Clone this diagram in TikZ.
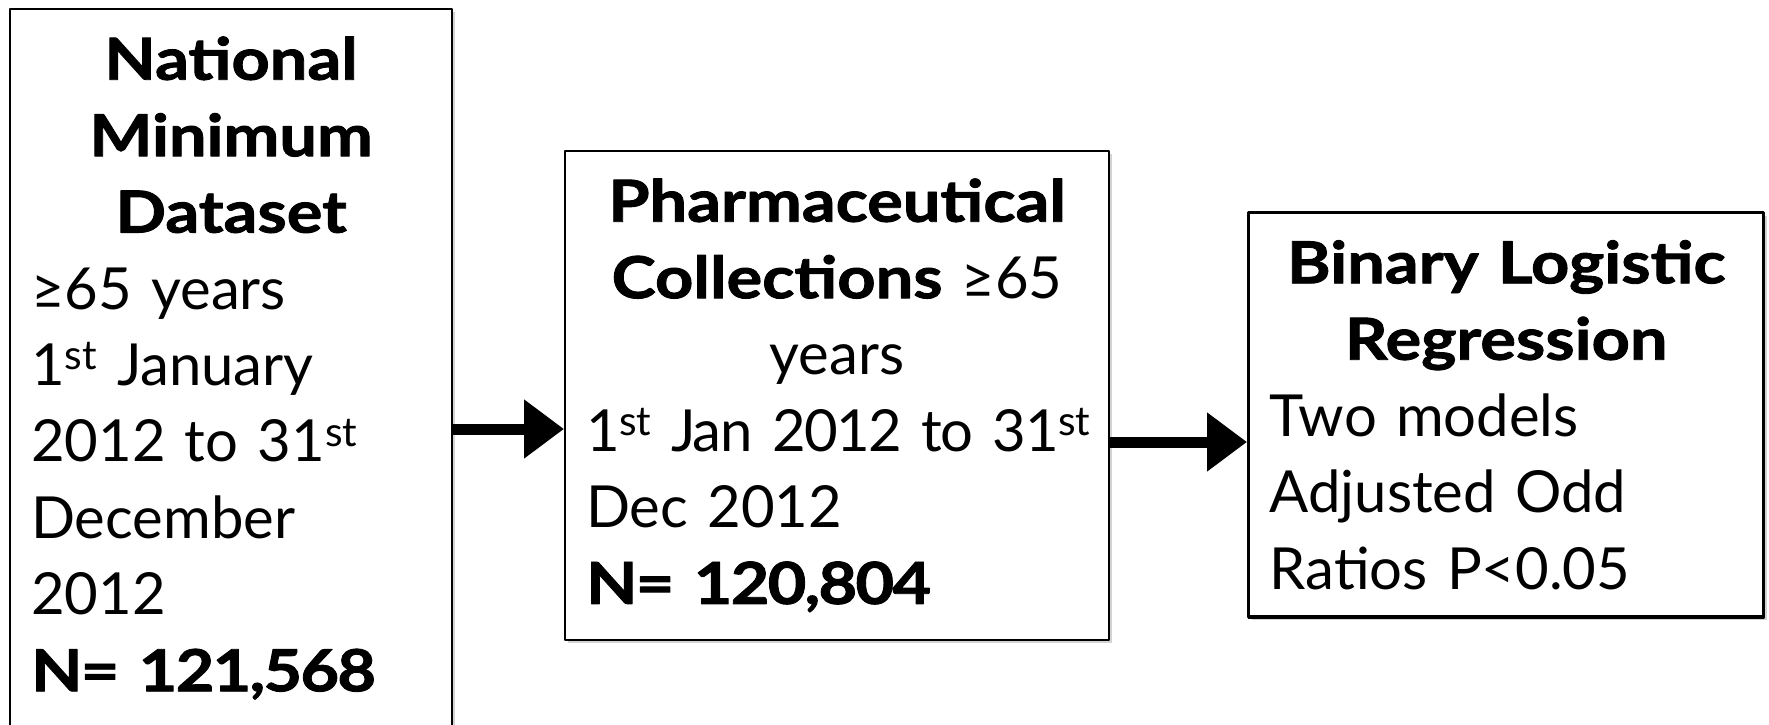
\documentclass[tikz,border=0pt]{standalone}
\usepackage{fontspec}
\setmainfont{Lato}[BoldFeatures={FakeBold=1.5, FakeStretch=1.15}]
\usetikzlibrary{arrows.meta,shadows}
\newcommand{\sth}[1]{\textsuperscript{#1}}
\newcommand{\total}[1]{\textbf{\addfontfeature{LetterSpace=-3}#1}}

\begin{document}
\begin{tikzpicture}[line cap=round, line join=round, x=1cm, y=1cm,
    stagebox/.style={draw, line width=1.25pt, fill=white, anchor=north west, align=left,
        drop shadow={shadow xshift=0.06cm, shadow yshift=-0.06cm, opacity=0.35},
        inner xsep=0.42cm, inner ysep=0.55cm, font=\fontsize{33}{43.5}\selectfont},
    flow/.style={line width=0.22cm, line cap=butt, -{Triangle[length=0.8cm, width=1.13cm]}}]
    \useasboundingbox (0,0) rectangle (35.38,14.48);
    \node[stagebox, text width=8.0cm] (nmds) at (0.18,14.32)
        {{\centering\bfseries National\\Minimum\\Dataset\par}
         ≥65 years\\1\sth{st} January\\2012 to 31\sth{st}\\December\\2012\\\total{N= 121,568}};
    \node[stagebox, text width=10.04cm] (pharm) at (11.28,11.48)
        {{\centering\textbf{Pharmaceutical}\\\textbf{Collections} ≥65\\years\par}
         \mbox{\addfontfeature{LetterSpace=-2.5}1\sth{st} Jan 2012 to 31\sth{st}}\\Dec 2012\\\total{N= 120,804}};
    \node[stagebox, line width=1.9pt, text width=9.46cm] (logit) at (24.94,10.26)
        {{\centering\bfseries Binary Logistic\\Regression\par}
         Two models\\Adjusted Odd\\Ratios P<0.05};
    \coordinate (a1) at (0,5.9);
    \coordinate (a2) at (0,5.64);
    \draw[flow] (nmds.east |- a1) -- (pharm.west |- a1);
    \draw[flow] (pharm.east |- a2) -- (logit.west |- a2);
\end{tikzpicture}
\end{document}
